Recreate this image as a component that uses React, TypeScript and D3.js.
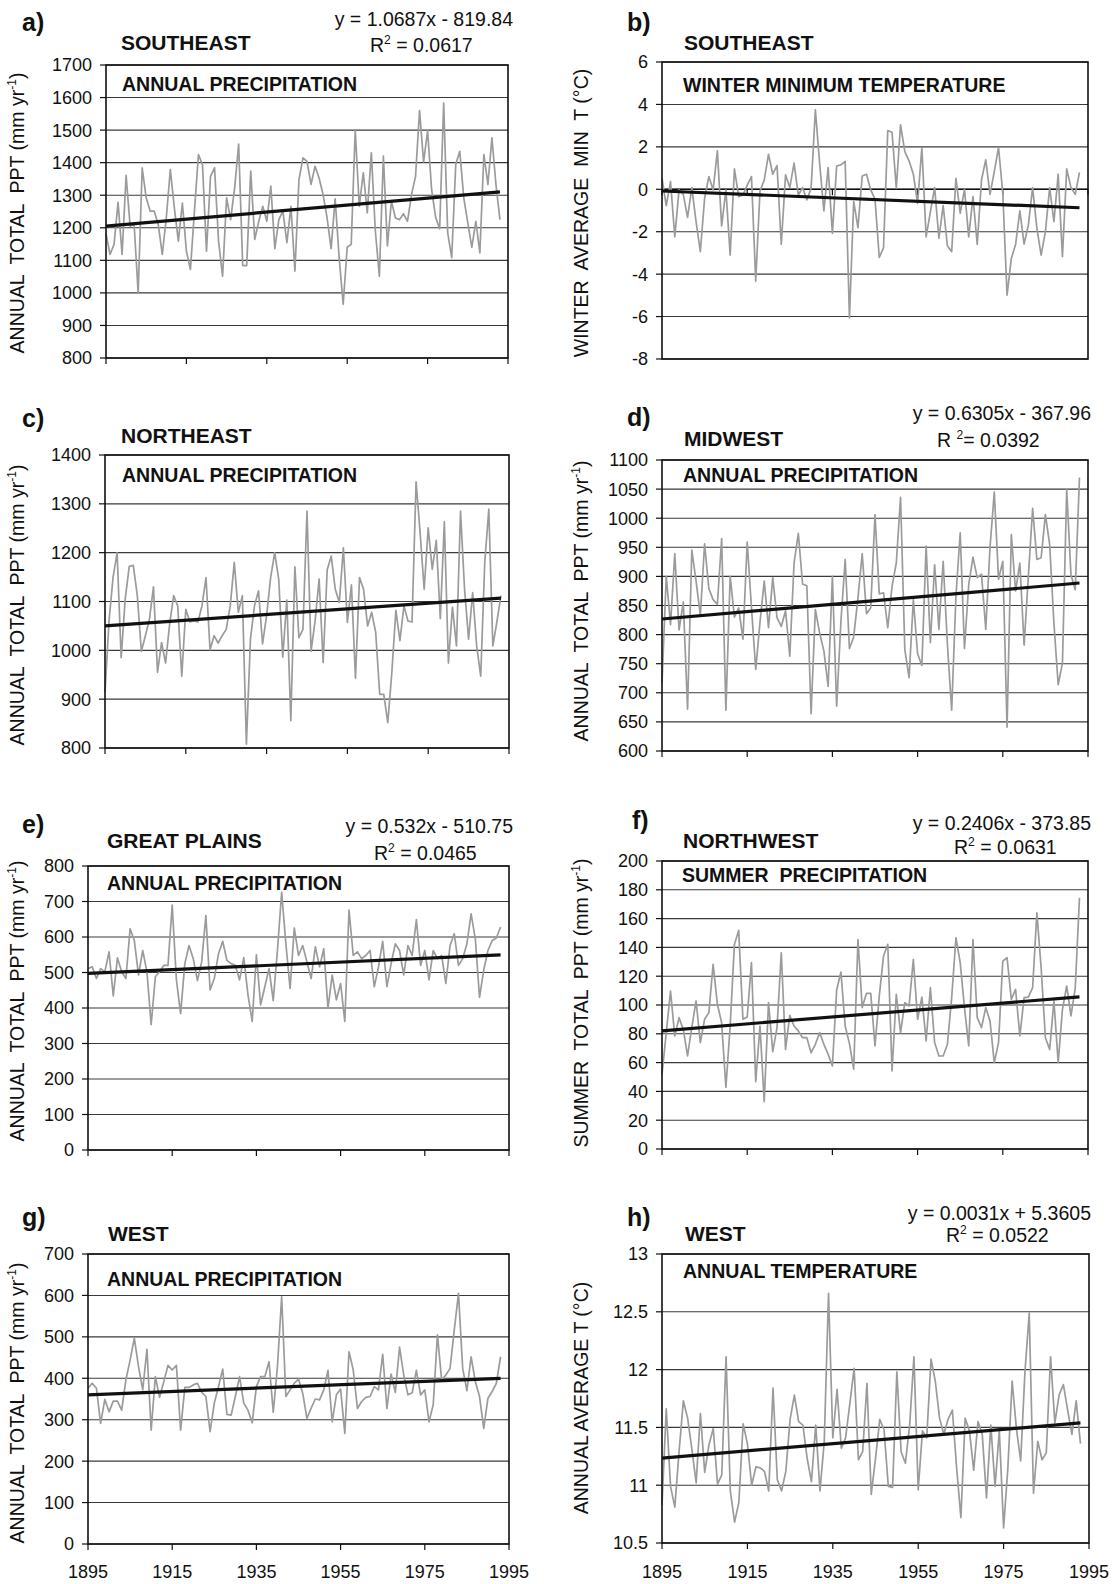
import React from 'react';
import * as d3 from 'd3';

// ---------------- DATA ----------------
const START_YEAR = 1895;
const X_TICKS = [1895, 1915, 1935, 1955, 1975, 1995];
const X_DOMAIN = [1895, 1995];

// a) Southeast annual precipitation (mm/yr)
const SE_PPT = [1182,1118,1149,1278,1118,1361,1205,1210,1000,1384,
  1292,1251,1251,1210,1118,1230,1379,1261,1159,1276,
  1128,1072,1251,1425,1394,1128,1358,1384,1159,1051,
  1292,1225,1322,1457,1084,1084,1374,1164,1220,1266,
  1220,1328,1136,1225,1251,1154,1266,1067,1348,1415,
  1404,1333,1389,1353,1302,1230,1136,1289,1108,965,
  1140,1149,1501,1266,1369,1246,1430,1190,1051,1420,
  1144,1282,1230,1225,1243,1220,1302,1358,1560,1402,
  1498,1317,1232,1197,1583,1184,1108,1394,1435,1292,
  1215,1140,1220,1123,1425,1333,1476,1333,1225];
const SE_PPT_FIT = [1.0687, -819.84];
const SE_PPT_TICKS = [800, 900, 1000, 1100, 1200, 1300, 1400, 1500, 1600, 1700];

// b) Southeast winter minimum temperature (°C)
const SE_TMIN = [0.52,-0.77,0.36,-2.24,-0.03,-0.24,-1.32,0.08,-1.53,-2.94,
  -0.43,0.6,-0.03,1.81,-1.73,-0.03,-3.1,0.96,-0.35,-0.27,
  0.2,0.6,-4.33,-0.08,0.44,1.65,0.71,1.12,-2.6,0.68,
  0.08,1.23,-0.27,0.08,-0.5,0.05,3.75,1.23,-1.02,1.02,
  -2.08,1.1,1.15,1.31,-6.06,-0.58,-1.81,0.63,0.71,-0.03,
  -0.46,-3.21,-2.76,2.77,2.69,0.05,3.04,1.78,1.34,0.71,
  -0.66,1.97,-2.24,-1.06,0.08,-2.31,-0.77,-2.66,-2.94,0.52,
  -1.13,0,-2.24,-0.35,-2.6,0.44,1.39,-0.24,0.83,1.97,
  -0.19,-4.99,-3.26,-2.6,-1.02,-2.58,-1.69,0.08,-1.84,-3.1,
  -2.0,0.08,-1.53,0.71,-3.18,0.96,0.08,-0.24,0.8];
const SE_TMIN_TREND = [-0.08, -0.87];
const SE_TMIN_TICKS = [-8, -6, -4, -2, 0, 2, 4, 6];

// c) Northeast annual precipitation
const NE_PPT = [914,1060,1150,1200,985,1105,1172,1174,1112,998,
  1030,1064,1130,955,1016,974,1054,1112,1091,947,
  1084,1058,1060,1058,1091,1149,1001,1030,1015,1030,
  1043,1091,1180,1078,1112,808,1023,1091,1122,1013,
  1071,1149,1200,1146,986,1103,856,1171,1026,1043,
  1285,998,1060,1146,975,1165,1193,1125,1098,1210,
  1057,1134,943,1149,1125,1050,1078,1037,910,910,
  852,955,1082,1020,1091,1060,1058,1345,1241,1125,
  1251,1166,1225,1065,1263,974,1088,1009,1285,1125,
  1023,1118,1009,947,1180,1289,1009,1058,1112];
const NE_PPT_TREND = [1050, 1107];
const NE_PPT_TICKS = [800, 900, 1000, 1100, 1200, 1300, 1400];

// d) Midwest annual precipitation
const MW_PPT = [717,900,817,939,808,856,672,945,892,833,
  956,879,860,852,965,670,900,830,846,792,
  959,847,740,821,892,812,898,829,814,841,
  763,923,974,887,884,664,843,803,772,711,
  900,677,823,929,776,796,863,939,836,846,
  1006,870,872,812,883,923,1036,774,726,860,
  767,747,952,786,920,809,926,783,670,866,
  975,776,886,933,898,904,809,950,1045,895,
  926,641,972,875,923,782,900,1017,929,932,
  1006,955,820,714,751,1049,903,877,1070];
const MW_PPT_FIT = [0.6305, -367.96];
const MW_PPT_TICKS = [600, 650, 700, 750, 800, 850, 900, 950, 1000, 1050, 1100];

// e) Great Plains annual precipitation
const GP_PPT = [511,516,483,511,502,558,434,541,502,483,
  623,590,493,562,502,353,488,502,520,520,
  690,479,384,525,576,539,477,530,660,451,
  483,553,588,534,525,520,479,542,437,362,
  550,409,460,511,421,562,726,581,455,625,
  548,576,530,483,572,516,567,399,493,423,
  469,362,676,548,558,539,548,562,460,516,
  588,460,525,581,562,493,576,548,649,520,
  562,479,562,539,548,469,576,609,520,539,
  581,665,595,430,507,562,590,597,628];
const GP_PPT_FIT = [0.532, -510.75];
const GP_PPT_TICKS = [0, 100, 200, 300, 400, 500, 600, 700, 800];

// f) Northwest summer precipitation
const NW_SPPT = [51.9,80.8,109.7,78.5,91.2,83.1,64.6,84.7,102.8,73.9,
  90.1,94.7,128.2,100.5,87.7,42.7,85.4,142.1,151.8,90.1,
  91.7,129.4,46.8,85.4,32.9,101.6,67.6,84.3,136.3,69.2,
  92.8,85.4,82,77.3,77.3,66.9,72.7,80.8,72.7,65.8,
  57.7,110.4,122.9,85.4,73.2,55.4,145.5,98.2,108.1,108.1,
  71.6,106.2,134,142.1,54.2,107.4,80.8,101.6,99.3,131.7,
  90.1,105.5,75,112,73.9,64.6,64.6,72.7,105.1,146.7,
  129.4,98.2,71.6,145.5,91.2,84.3,98.2,88.9,60,73.9,
  130.5,132.8,103.9,110.9,78.5,105.1,105.5,112,164,125.9,
  77.3,69.2,102.8,60,97,113.2,92.4,111.6,174.5];
const NW_SPPT_FIT = [0.2406, -373.85];
const NW_SPPT_TICKS = [0, 20, 40, 60, 80, 100, 120, 140, 160, 180, 200];

// g) West annual precipitation
const W_PPT = [376,388,376,291,349,319,345,345,323,396,
  444,497,428,372,470,275,404,354,392,431,
  420,431,275,378,378,384,388,366,356,271,
  340,380,422,313,311,356,404,340,323,293,
  380,404,404,440,318,428,597,356,372,388,
  398,364,303,328,350,348,372,419,295,360,
  374,267,464,420,327,344,354,356,380,372,
  458,327,410,366,475,408,360,365,419,360,
  372,295,336,505,396,408,424,517,605,424,
  370,452,392,356,279,352,368,388,452];
const W_PPT_TREND = [360, 400];
const W_PPT_TICKS = [0, 100, 200, 300, 400, 500, 600, 700];

// h) West annual temperature
const W_TEMP = [10.83,11.66,10.99,10.81,11.29,11.73,11.58,11.31,11.02,11.62,
  11.11,11.35,11.49,11.01,11.09,12.11,10.95,10.68,10.85,11.53,
  11.36,11.0,11.16,11.15,11.12,10.95,11.84,11.05,10.95,11.12,
  11.57,11.78,11.55,11.52,11.23,11.03,11.52,10.95,11.38,12.66,
  11.41,11.83,11.32,11.41,11.71,12.01,11.22,11.29,11.88,10.92,
  11.23,11.57,11.48,10.99,10.98,11.98,11.29,11.19,11.52,12.11,
  10.96,11.47,11.41,12.09,11.9,11.58,11.44,11.57,11.65,11.15,
  10.72,11.58,11.47,11.13,11.55,11.44,10.89,11.52,10.99,11.47,
  10.63,11.15,11.9,11.49,11.21,11.98,12.49,10.93,11.38,11.22,
  11.28,12.11,11.54,11.78,11.87,11.65,11.44,11.73,11.36];
const W_TEMP_FIT = [0.0031, 5.3605];
const W_TEMP_TICKS = [10.5, 11, 11.5, 12, 12.5, 13];

// ---------------- LAYOUT / STYLE ----------------
const FONT = '"Liberation Sans", Arial, Helvetica, sans-serif';
const GRAY = '#9b9b9b';
const GRID = '#3a3a3a';

type Part = { t: string; sup?: boolean };
type Cfg = {
  values: number[];
  fit?: number[];
  trend?: number[];
  ticks: number[];
  box: [number, number, number, number]; // x0, x1, y0, y1
  letter: string; letterPos: [number, number];
  region: string; regionPos: [number, number];
  inner: string; innerPos: [number, number];
  yTitle: Part[]; yTitlePos: [number, number];
  eq?: string; eqPos?: [number, number];
  r2?: Part[]; r2Pos?: [number, number];
  zeroAxis?: boolean;
  xLabels?: boolean;
};

const PPT_TITLE: Part[] = [{ t: 'ANNUAL  TOTAL  PPT (mm yr' }, { t: '-1', sup: true }, { t: ')' }];

const PANELS: Cfg[] = [
  {
    values: SE_PPT, fit: SE_PPT_FIT, ticks: SE_PPT_TICKS, box: [106, 508, 65, 358],
    letter: 'a)', letterPos: [22, 31], region: 'SOUTHEAST', regionPos: [121, 50],
    inner: 'ANNUAL PRECIPITATION', innerPos: [122, 91],
    yTitle: PPT_TITLE, yTitlePos: [24, 213],
    eq: 'y = 1.0687x - 819.84', eqPos: [513, 26],
    r2: [{ t: 'R' }, { t: '2', sup: true }, { t: ' = 0.0617' }], r2Pos: [370, 52],
  },
  {
    values: SE_TMIN, trend: SE_TMIN_TREND, ticks: SE_TMIN_TICKS, box: [662, 1088, 62, 359],
    letter: 'b)', letterPos: [627, 31], region: 'SOUTHEAST', regionPos: [684, 50],
    inner: 'WINTER MINIMUM TEMPERATURE', innerPos: [683, 92],
    yTitle: [{ t: 'WINTER  AVERAGE  MIN  T (°C)' }], yTitlePos: [588, 213],
    zeroAxis: true,
  },
  {
    values: NE_PPT, trend: NE_PPT_TREND, ticks: NE_PPT_TICKS, box: [105, 509, 455, 748],
    letter: 'c)', letterPos: [22, 427], region: 'NORTHEAST', regionPos: [121, 443],
    inner: 'ANNUAL PRECIPITATION', innerPos: [122, 482],
    yTitle: PPT_TITLE, yTitlePos: [24, 605],
  },
  {
    values: MW_PPT, fit: MW_PPT_FIT, ticks: MW_PPT_TICKS, box: [662, 1088, 460, 751],
    letter: 'd)', letterPos: [627, 426], region: 'MIDWEST', regionPos: [684, 446],
    inner: 'ANNUAL PRECIPITATION', innerPos: [683, 482],
    yTitle: PPT_TITLE, yTitlePos: [588, 601],
    eq: 'y = 0.6305x - 367.96', eqPos: [1091, 420],
    r2: [{ t: 'R ' }, { t: '2', sup: true }, { t: '= 0.0392' }], r2Pos: [937, 447],
  },
  {
    values: GP_PPT, fit: GP_PPT_FIT, ticks: GP_PPT_TICKS, box: [88, 509, 866, 1150],
    letter: 'e)', letterPos: [22, 833], region: 'GREAT PLAINS', regionPos: [107, 848],
    inner: 'ANNUAL PRECIPITATION', innerPos: [107, 890],
    yTitle: PPT_TITLE, yTitlePos: [24, 1001],
    eq: 'y = 0.532x - 510.75', eqPos: [513, 833],
    r2: [{ t: 'R' }, { t: '2', sup: true }, { t: ' = 0.0465' }], r2Pos: [374, 860],
  },
  {
    values: NW_SPPT, fit: NW_SPPT_FIT, ticks: NW_SPPT_TICKS, box: [662, 1088, 861, 1149],
    letter: 'f)', letterPos: [632, 829], region: 'NORTHWEST', regionPos: [683, 848],
    inner: 'SUMMER  PRECIPITATION', innerPos: [682, 882],
    yTitle: [{ t: 'SUMMER  TOTAL  PPT (mm yr' }, { t: '-1', sup: true }, { t: ')' }], yTitlePos: [588, 1003],
    eq: 'y = 0.2406x - 373.85', eqPos: [1091, 830],
    r2: [{ t: 'R' }, { t: '2', sup: true }, { t: ' = 0.0631' }], r2Pos: [954, 854],
  },
  {
    values: W_PPT, trend: W_PPT_TREND, ticks: W_PPT_TICKS, box: [88, 509, 1254, 1544],
    letter: 'g)', letterPos: [22, 1226], region: 'WEST', regionPos: [108, 1241],
    inner: 'ANNUAL PRECIPITATION', innerPos: [107, 1286],
    yTitle: PPT_TITLE, yTitlePos: [24, 1403],
    xLabels: true,
  },
  {
    values: W_TEMP, fit: W_TEMP_FIT, ticks: W_TEMP_TICKS, box: [662, 1089, 1254, 1543],
    letter: 'h)', letterPos: [627, 1226], region: 'WEST', regionPos: [685, 1241],
    inner: 'ANNUAL TEMPERATURE', innerPos: [683, 1278],
    yTitle: [{ t: 'ANNUAL AVERAGE T (°C)' }], yTitlePos: [588, 1398],
    eq: 'y = 0.0031x + 5.3605', eqPos: [1091, 1220],
    r2: [{ t: 'R' }, { t: '2', sup: true }, { t: ' = 0.0522' }], r2Pos: [946, 1242],
    xLabels: true,
  },
];

function Rich({ parts, size }: { parts: Part[]; size: number }) {
  const out: React.ReactNode[] = [];
  let shifted = false;
  parts.forEach((p, i) => {
    if (p.sup) {
      out.push(<tspan key={i} fontSize={size * 0.62} dy={-size * 0.4}>{p.t}</tspan>);
      shifted = true;
    } else {
      out.push(<tspan key={i} fontSize={size} dy={shifted ? size * 0.4 : 0}>{p.t}</tspan>);
      shifted = false;
    }
  });
  return <>{out}</>;
}

function Panel({ c }: { c: Cfg }) {
  const [x0, x1, y0, y1] = c.box;
  const x = d3.scaleLinear().domain(X_DOMAIN).range([x0, x1]);
  const dom = d3.extent(c.ticks) as [number, number];
  const y = d3.scaleLinear().domain(dom).range([y1, y0]);
  const years = c.values.map((_, i) => START_YEAR + i);
  const line = d3.line<number>().x((_, i) => x(years[i])).y((d) => y(d));
  const firstYear = years[0];
  const lastYear = years[years.length - 1];
  const tv = c.fit
    ? [c.fit[0] * firstYear + c.fit[1], c.fit[0] * lastYear + c.fit[1]]
    : (c.trend as number[]);
  const axisY = c.zeroAxis ? y(0) : y1;

  return (
    <g fontFamily={FONT} fill="#111">
      {c.ticks.map((t) => (
        <line key={'g' + t} x1={x0} x2={x1} y1={y(t)} y2={y(t)} stroke={GRID} strokeWidth={1.1} />
      ))}
      {c.ticks.map((t) => (
        <g key={'t' + t}>
          <line x1={x0 - 6} x2={x0} y1={y(t)} y2={y(t)} stroke="#111" strokeWidth={1.2} />
          <text x={x0 - 14} y={y(t)} dy="0.36em" textAnchor="end" fontSize={18}>{String(t)}</text>
        </g>
      ))}
      {X_TICKS.map((t) => (
        <line key={'x' + t} x1={x(t)} x2={x(t)} y1={axisY} y2={axisY + 6} stroke="#111" strokeWidth={1.2} />
      ))}
      {c.zeroAxis && <line x1={x0} x2={x1} y1={axisY} y2={axisY} stroke="#111" strokeWidth={1.4} />}
      {c.xLabels && X_TICKS.map((t) => (
        <text key={'xl' + t} x={x(t)} y={1578} textAnchor="middle" fontSize={18}>{String(t)}</text>
      ))}
      <path d={line(c.values) || ''} fill="none" stroke={GRAY} strokeWidth={1.7} strokeLinejoin="round" />
      <line x1={x(firstYear)} x2={x(lastYear)} y1={y(tv[0])} y2={y(tv[1])} stroke="#111" strokeWidth={3.2} />
      <rect x={x0} y={y0} width={x1 - x0} height={y1 - y0} fill="none" stroke="#111" strokeWidth={1.6} />
      <text x={c.innerPos[0]} y={c.innerPos[1]} fontSize={19.5} fontWeight="bold" style={{ whiteSpace: 'pre' }}>{c.inner}</text>
      <text x={c.letterPos[0]} y={c.letterPos[1]} fontSize={25} fontWeight="bold">{c.letter}</text>
      <text x={c.regionPos[0]} y={c.regionPos[1]} fontSize={21} fontWeight="bold">{c.region}</text>
      {c.eq && c.eqPos && (
        <text x={c.eqPos[0]} y={c.eqPos[1]} fontSize={19.5} textAnchor="end">{c.eq}</text>
      )}
      {c.r2 && c.r2Pos && (
        <text x={c.r2Pos[0]} y={c.r2Pos[1]} style={{ whiteSpace: 'pre' }}>
          <Rich parts={c.r2} size={19.5} />
        </text>
      )}
      <text
        transform={`translate(${c.yTitlePos[0]},${c.yTitlePos[1]}) rotate(-90)`}
        textAnchor="middle" dy="0.36em" style={{ whiteSpace: 'pre' }}
      >
        <Rich parts={c.yTitle} size={19.5} />
      </text>
    </g>
  );
}

export default function App() {
  return (
    <svg
      width={1115}
      height={1584}
      viewBox="0 0 1115 1584"
      style={{ position: 'absolute', left: 0, top: 0, background: '#fff' }}
    >
      <rect width={1115} height={1584} fill="#fff" />
      {PANELS.map((c, i) => (
        <Panel key={i} c={c} />
      ))}
    </svg>
  );
}
